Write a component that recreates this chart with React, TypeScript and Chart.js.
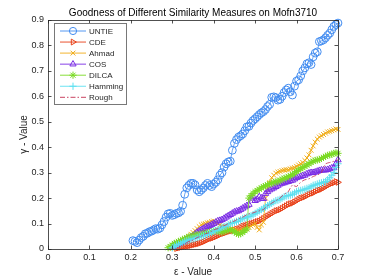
import React, { useEffect, useRef } from 'react';
import { Chart, registerables } from 'chart.js';
import { drawPoint } from 'chart.js/helpers';

Chart.register(...registerables);

const TITLE = 'Goodness of Different Similarity Measures on Mofn3710';
const X_LABEL = 'ε - Value';
const Y_LABEL = 'γ - Value';
const X_TICKS = [0, 0.1, 0.2, 0.3, 0.4, 0.5, 0.6, 0.7];
const Y_TICKS = [0, 0.1, 0.2, 0.3, 0.4, 0.5, 0.6, 0.7, 0.8, 0.9];
const SERIES_NAMES = ['UNTIE', 'CDE', 'Ahmad', 'COS', 'DILCA', 'Hamming', 'Rough'];

// epsilon sampling grids
const EPS_STEP = 0.005;
const UNTIE_START = 0.205;
const OTHERS_START = 0.29;

const untie = [
  0.033, 0.030, 0.025, 0.035, 0.045, 0.050, 0.060, 0.062, 0.068, 0.070,
  0.075, 0.080, 0.078, 0.082, 0.095, 0.108, 0.125, 0.138, 0.140, 0.132,
  0.135, 0.140, 0.142, 0.148, 0.172, 0.215, 0.240, 0.250, 0.258, 0.258,
  0.252, 0.232, 0.225, 0.232, 0.240, 0.250, 0.258, 0.250, 0.245, 0.255,
  0.262, 0.272, 0.290, 0.300, 0.322, 0.335, 0.342, 0.345, 0.388, 0.415,
  0.430, 0.440, 0.445, 0.452, 0.465, 0.480, 0.482, 0.495, 0.505, 0.512,
  0.520, 0.528, 0.535, 0.540, 0.548, 0.560, 0.568, 0.596, 0.598, 0.595,
  0.585, 0.588, 0.600, 0.615, 0.625, 0.632, 0.618, 0.605, 0.640, 0.660,
  0.665, 0.680, 0.700, 0.712, 0.728, 0.732, 0.725, 0.755, 0.770, 0.775,
  0.815, 0.818, 0.822, 0.830, 0.840, 0.848, 0.862, 0.875, 0.882, 0.888,
];

const cde = [
  null, null, null, null, 0.002, 0.004, 0.006, 0.008, 0.010, 0.010,
  0.012, 0.014, 0.016, 0.018, 0.020, 0.022, 0.025, 0.028, 0.032, 0.036,
  0.040, 0.042, 0.045, 0.048, 0.052, 0.056, 0.060, 0.062, 0.065, 0.068,
  0.070, 0.072, 0.075, 0.078, 0.080, 0.085, 0.090, 0.092, 0.095, 0.098,
  0.100, 0.102, 0.105, 0.108, 0.110, 0.115, 0.120, 0.125, 0.130, 0.135,
  0.140, 0.145, 0.150, 0.152, 0.155, 0.160, 0.165, 0.170, 0.175, 0.178,
  0.180, 0.185, 0.190, 0.195, 0.200, 0.202, 0.205, 0.210, 0.215, 0.218,
  0.220, 0.225, 0.230, 0.232, 0.235, 0.240, 0.245, 0.250, 0.255, 0.258,
  0.260, 0.265, 0.262,
];

const ahmad = [
  null, null, 0.002, 0.008, 0.012, 0.018, 0.022, 0.028, 0.035, 0.042,
  0.050, 0.058, 0.065, 0.072, 0.080, 0.088, 0.095, 0.098, 0.100, 0.103,
  0.105, 0.108, 0.110, 0.105, 0.100, 0.095, 0.090, 0.088, 0.085, 0.082,
  0.080, 0.078, 0.075, 0.072, 0.070, 0.072, 0.075, 0.078, 0.080, 0.085,
  0.090, 0.095, 0.100, 0.085, 0.075, 0.095, 0.105, 0.200, 0.235, 0.260,
  0.280, 0.290, 0.298, 0.302, 0.305, 0.308, 0.310, 0.312, 0.312, 0.315,
  0.318, 0.320, 0.325, 0.330, 0.335, 0.340, 0.348, 0.358, 0.370, 0.388,
  0.405, 0.420, 0.432, 0.440, 0.445, 0.450, 0.455, 0.460, 0.462, 0.465,
  0.468, 0.472, 0.470,
];

const cos = [
  null, null, 0.008, 0.015, 0.018, 0.022, 0.025, 0.030, 0.035, 0.038,
  0.042, 0.046, 0.050, 0.058, 0.065, 0.070, 0.075, 0.080, 0.085, 0.088,
  0.092, 0.096, 0.100, 0.105, 0.110, 0.112, 0.115, 0.120, 0.125, 0.130,
  0.135, 0.140, 0.145, 0.148, 0.150, 0.155, 0.160, 0.165, 0.170, 0.175,
  0.200, 0.205, 0.190, 0.195, 0.205, 0.200, 0.198, 0.218, 0.225, 0.232,
  0.236, 0.240, 0.245, 0.250, 0.255, 0.258, 0.260, 0.263, 0.265, 0.268,
  0.270, 0.275, 0.280, 0.283, 0.285, 0.288, 0.290, 0.295, 0.298, 0.300,
  0.300, 0.302, 0.305, 0.308, 0.310, 0.310, 0.310, 0.312, 0.315, 0.318,
  0.320, 0.335, 0.350,
];

const dilca = [
  0.005, 0.010, 0.015, 0.022, 0.025, 0.030, 0.032, 0.038, 0.040, 0.045,
  0.048, 0.050, 0.052, 0.055, 0.056, 0.055, 0.058, 0.060, 0.062, 0.065,
  0.066, 0.068, 0.070, 0.072, 0.070, 0.068, 0.066, 0.070, 0.072, 0.075,
  0.076, 0.072, 0.068, 0.062, 0.058, 0.060, 0.065, 0.072, 0.078, 0.200,
  0.210, 0.218, 0.225, 0.230, 0.235, 0.240, 0.245, 0.248, 0.252, 0.256,
  0.258, 0.262, 0.264, 0.266, 0.270, 0.274, 0.278, 0.280, 0.285, 0.288,
  0.292, 0.298, 0.305, 0.310, 0.315, 0.320, 0.325, 0.330, 0.335, 0.340,
  0.345, 0.348, 0.350, 0.352, 0.356, 0.360, 0.364, 0.368, 0.370, 0.372,
  0.376, 0.378, 0.376,
];

const hamming = [
  null, null, 0.005, 0.010, 0.015, 0.018, 0.020, 0.025, 0.030, 0.032,
  0.035, 0.038, 0.040, 0.042, 0.045, 0.048, 0.050, 0.052, 0.055, 0.058,
  0.060, 0.065, 0.070, 0.072, 0.075, 0.080, 0.085, 0.088, 0.090, 0.095,
  0.100, 0.102, 0.105, 0.108, 0.110, 0.115, 0.120, 0.122, 0.125, 0.128,
  0.130, 0.135, 0.140, 0.145, 0.150, 0.155, 0.160, 0.165, 0.170, 0.175,
  0.180, 0.185, 0.190, 0.192, 0.195, 0.200, 0.205, 0.208, 0.210, 0.212,
  0.215, 0.220, 0.225, 0.228, 0.230, 0.232, 0.235, 0.238, 0.240, 0.245,
  0.250, 0.252, 0.255, 0.258, 0.260, 0.262, 0.265, 0.272, 0.280, 0.290,
  0.300, 0.320, 0.335,
];

const rough = [
  null, null, null, null, 0.002, 0.006, 0.010, 0.015, 0.020, 0.025,
  0.030, 0.032, 0.035, 0.040, 0.045, 0.048, 0.050, 0.055, 0.060, 0.062,
  0.065, 0.070, 0.075, 0.078, 0.080, 0.085, 0.090, 0.092, 0.095, 0.100,
  0.105, 0.108, 0.110, 0.115, 0.120, 0.122, 0.125, 0.130, 0.135, 0.138,
  0.140, 0.142, 0.145, 0.148, 0.150, 0.152, 0.155, 0.162, 0.170, 0.175,
  0.180, 0.185, 0.190, 0.195, 0.200, 0.208, 0.215, 0.220, 0.225, 0.240,
  0.252, 0.248, 0.245, 0.255, 0.262, 0.268, 0.272, 0.274, 0.276, 0.280,
  0.285, 0.288, 0.290, 0.295, 0.300, 0.320, 0.335, 0.338, 0.340, 0.342,
  0.345, 0.348, 0.350,
];

const toPoints = (start: number, ys: (number | null)[]) =>
  ys.map((y, i) => ({ x: +(start + i * EPS_STEP).toFixed(3), y }));

const STYLES = [
  { color: 'rgb(66,140,240)', pointStyle: 'circle', radius: 3.9, rotation: 0, dash: [] as number[] },
  { color: 'rgb(232,64,24)', pointStyle: 'triangle', radius: 3.4, rotation: 90, dash: [] },
  { color: 'rgb(240,172,24)', pointStyle: 'crossRot', radius: 3.4, rotation: 0, dash: [] },
  { color: 'rgb(122,44,228)', pointStyle: 'triangle', radius: 3.7, rotation: 0, dash: [] },
  { color: 'rgb(122,218,36)', pointStyle: 'star', radius: 3.6, rotation: 0, dash: [] },
  { color: 'rgb(92,224,240)', pointStyle: 'cross', radius: 3.7, rotation: 0, dash: [] },
  { color: 'rgb(196,44,78)', pointStyle: false as any, radius: 0, rotation: 0, dash: [5, 2, 1.5, 2] },
];

const AXIS_COLOR = '#262626';
const FONT = '"Liberation Sans", Arial, Helvetica, sans-serif';

const framePlugin = {
  id: 'matlabFrame',
  afterDraw(chart: any) {
    const { ctx, chartArea: a, scales } = chart;
    ctx.save();
    // box
    ctx.strokeStyle = AXIS_COLOR;
    ctx.lineWidth = 0.8;
    ctx.strokeRect(Math.round(a.left) + 0.5, Math.round(a.top) + 0.5, Math.round(a.right - a.left), Math.round(a.bottom - a.top));
    // inward ticks
    const tl = 3.5;
    ctx.beginPath();
    X_TICKS.forEach((v) => {
      const x = Math.round(scales.x.getPixelForValue(v)) + 0.5;
      ctx.moveTo(x, a.bottom);
      ctx.lineTo(x, a.bottom - tl);
      ctx.moveTo(x, a.top);
      ctx.lineTo(x, a.top + tl);
    });
    Y_TICKS.forEach((v) => {
      const y = Math.round(scales.y.getPixelForValue(v)) + 0.5;
      ctx.moveTo(a.left, y);
      ctx.lineTo(a.left + tl, y);
      ctx.moveTo(a.right, y);
      ctx.lineTo(a.right - tl, y);
    });
    ctx.stroke();

    // title
    ctx.fillStyle = '#000';
    ctx.font = `10px ${FONT}`;
    ctx.textAlign = 'center';
    ctx.textBaseline = 'middle';
    ctx.fillText(TITLE, (a.left + a.right) / 2, 13);

    // axis labels
    ctx.fillStyle = AXIS_COLOR;
    ctx.fillText(X_LABEL, (a.left + a.right) / 2, 272);
    ctx.save();
    ctx.translate(24, (a.top + a.bottom) / 2);
    ctx.rotate(-Math.PI / 2);
    ctx.fillText(Y_LABEL, 0, 0);
    ctx.restore();

    // legend
    const lx = 54, ly = 23, lw = 72, lh = 81;
    ctx.fillStyle = '#fff';
    ctx.fillRect(lx, ly, lw, lh);
    ctx.strokeStyle = 'rgb(120,120,120)';
    ctx.lineWidth = 1;
    ctx.strokeRect(lx + 0.5, ly + 0.5, lw, lh);
    ctx.font = `8px ${FONT}`;
    ctx.textAlign = 'left';
    ctx.textBaseline = 'middle';
    chart.data.datasets.forEach((ds: any, i: number) => {
      const st = STYLES[i];
      const y = ly + 8 + i * 11.05;
      ctx.strokeStyle = st.color;
      ctx.lineWidth = 0.9;
      ctx.setLineDash(st.dash);
      ctx.beginPath();
      ctx.moveTo(60, y);
      ctx.lineTo(86, y);
      ctx.stroke();
      ctx.setLineDash([]);
      if (st.pointStyle) {
        ctx.fillStyle = 'rgba(0,0,0,0)';
        ctx.strokeStyle = st.color;
        ctx.lineWidth = 1;
        drawPoint(ctx, { pointStyle: st.pointStyle, rotation: st.rotation, radius: Math.min(st.radius, 3.6), borderWidth: 1 } as any, 73, y);
      }
      ctx.fillStyle = AXIS_COLOR;
      ctx.fillText(ds.label, 89, y + 0.5);
    });
    ctx.restore();
  },
};

export default function App() {
  const ref = useRef<HTMLCanvasElement>(null);
  useEffect(() => {
    const series = [
      toPoints(UNTIE_START, untie),
      toPoints(OTHERS_START, cde),
      toPoints(OTHERS_START, ahmad),
      toPoints(OTHERS_START, cos),
      toPoints(OTHERS_START, dilca),
      toPoints(OTHERS_START, hamming),
      toPoints(OTHERS_START, rough),
    ];
    const datasets = series.map((data, i) => {
      const st = STYLES[i];
      return {
        label: SERIES_NAMES[i],
        data,
        borderColor: st.color,
        backgroundColor: 'rgba(0,0,0,0)',
        borderWidth: 0.8,
        borderDash: st.dash,
        pointStyle: st.pointStyle,
        pointRadius: st.radius,
        pointRotation: st.rotation,
        pointBorderColor: st.color,
        pointBackgroundColor: 'rgba(0,0,0,0)',
        pointBorderWidth: 1,
        tension: 0,
        fill: false,
        clip: false as any,
        order: 6 - i,
      };
    });
    const chart = new Chart(ref.current!, {
      type: 'line',
      data: { datasets },
      options: {
        animation: false,
        responsive: false,
        devicePixelRatio: 1,
        layout: { padding: { left: 0, right: 36, top: 20, bottom: 0 } },
        plugins: { legend: { display: false }, tooltip: { enabled: false }, title: { display: false } },
        scales: {
          x: {
            type: 'linear',
            min: 0,
            max: 0.7,
            grid: { display: false, drawTicks: false },
            border: { display: false },
            afterBuildTicks: (s: any) => { s.ticks = X_TICKS.map((v) => ({ value: v })); },
            afterFit: (s: any) => { s.height = 31; },
            ticks: {
              padding: 3,
              color: AXIS_COLOR,
              font: { family: FONT, size: 9 },
              maxRotation: 0,
              autoSkip: false,
              callback: (v: any) => String(v),
            },
          },
          y: {
            type: 'linear',
            min: 0,
            max: 0.9,
            grid: { display: false, drawTicks: false },
            border: { display: false },
            afterBuildTicks: (s: any) => { s.ticks = Y_TICKS.map((v) => ({ value: v })); },
            afterFit: (s: any) => { s.width = 48; },
            ticks: {
              padding: 4,
              color: AXIS_COLOR,
              font: { family: FONT, size: 9 },
              autoSkip: false,
              callback: (v: any) => String(v),
            },
          },
        },
      },
      plugins: [framePlugin],
    });
    return () => chart.destroy();
  }, []);
  return (
    <div style={{ position: 'fixed', left: 0, top: 0, width: 374, height: 280, background: '#fff' }}>
      <canvas ref={ref} width={374} height={280} />
    </div>
  );
}
